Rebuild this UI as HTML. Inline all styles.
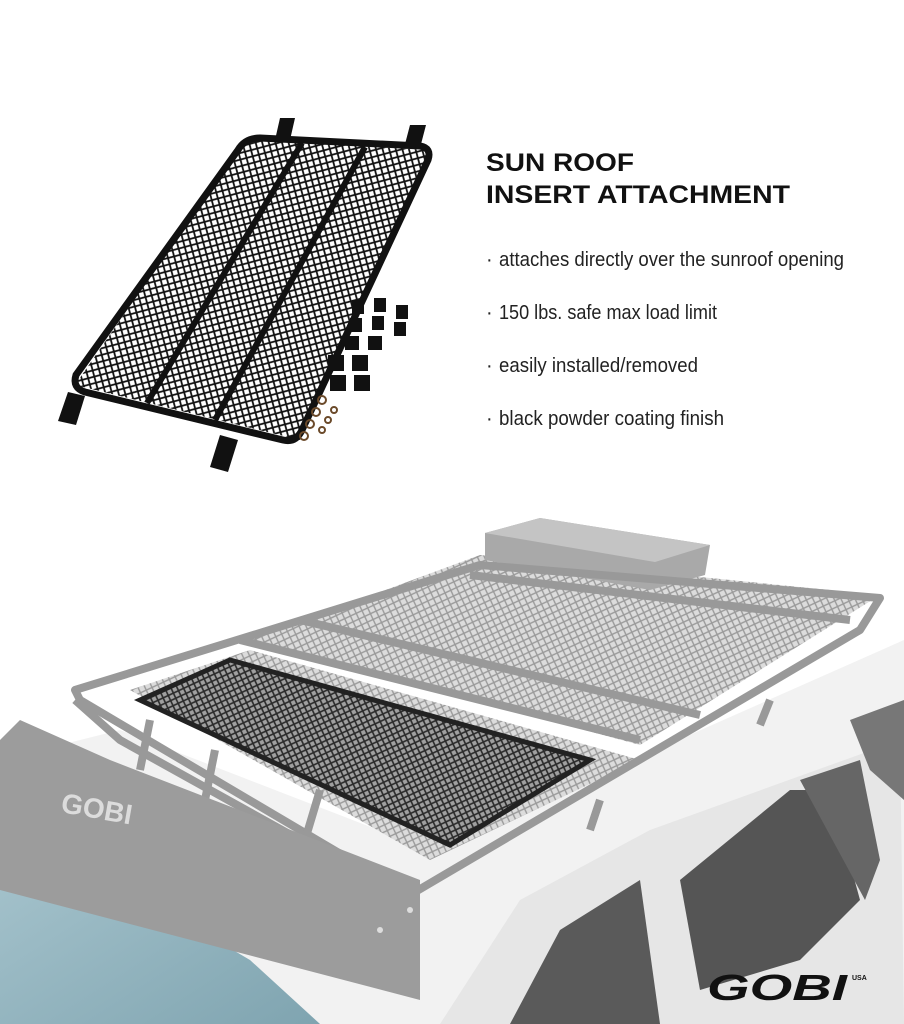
<!DOCTYPE html>
<html><head><style>html,body{margin:0;padding:0;background:#fff}svg{display:block}</style></head>
<body>
<svg width="904" height="1024" viewBox="0 0 904 1024" xmlns="http://www.w3.org/2000/svg">
<defs>
<pattern id="mesh" width="9" height="9" patternUnits="userSpaceOnUse" patternTransform="rotate(30)">
<rect width="9" height="9" fill="#fff"/><path d="M0 0L9 9M9 0L0 9" stroke="#111" stroke-width="1.8"/></pattern>
<pattern id="gmesh" width="9" height="9" patternUnits="userSpaceOnUse" patternTransform="rotate(20)">
<rect width="9" height="9" fill="#dcdcdc"/><path d="M0 0L9 9M9 0L0 9" stroke="#9a9a9a" stroke-width="1.4"/></pattern>
<pattern id="bmesh" width="8" height="8" patternUnits="userSpaceOnUse" patternTransform="rotate(20)">
<rect width="8" height="8" fill="#a0a0a0"/><path d="M0 0L8 8M8 0L0 8" stroke="#2a2a2a" stroke-width="1.6"/></pattern>
<linearGradient id="glass" x1="0" y1="0" x2="1" y2="1"><stop offset="0" stop-color="#a9c6cf"/><stop offset="1" stop-color="#7fa4b0"/></linearGradient>
</defs>

<g>
<polygon points="245,140 430,150 300,440 75,385" fill="url(#mesh)"/>
<path d="M260,138 L420,146 Q432,148 428,160 L302,430 Q296,443 283,440 L85,392 Q72,388 76,375 L238,150 Q245,138 260,138Z" fill="none" stroke="#111" stroke-width="7"/>
<line x1="302" y1="143" x2="147" y2="403" stroke="#111" stroke-width="6"/>
<line x1="365" y1="147" x2="215" y2="420" stroke="#111" stroke-width="6"/>
<polygon points="280,118 295,118 290,140 275,140" fill="#111"/>
<polygon points="410,125 426,125 420,148 404,148" fill="#111"/>
<polygon points="68,392 85,396 76,425 58,421" fill="#111"/>
<polygon points="220,435 238,440 228,472 210,467" fill="#111"/>
<g fill="#111">
<rect x="352" y="300" width="12" height="14"/><rect x="374" y="298" width="12" height="14"/><rect x="396" y="305" width="12" height="14"/>
<rect x="350" y="318" width="12" height="14"/><rect x="372" y="316" width="12" height="14"/><rect x="394" y="322" width="12" height="14"/>
<rect x="345" y="336" width="14" height="14"/><rect x="368" y="336" width="14" height="14"/>
<rect x="328" y="355" width="16" height="16"/><rect x="352" y="355" width="16" height="16"/>
<rect x="330" y="375" width="16" height="16"/><rect x="354" y="375" width="16" height="16"/>
</g>
<g fill="none" stroke="#6b4a2a" stroke-width="2">
<circle cx="322" cy="400" r="4"/><circle cx="334" cy="410" r="3"/><circle cx="316" cy="412" r="4"/><circle cx="328" cy="420" r="3"/><circle cx="310" cy="424" r="4"/><circle cx="322" cy="430" r="3"/><circle cx="304" cy="436" r="4"/>
</g>
</g>

<g font-family="'Liberation Sans',sans-serif">
<text x="486" y="171" font-size="25" font-weight="bold" fill="#111" textLength="148" lengthAdjust="spacingAndGlyphs">SUN ROOF</text>
<text x="486" y="203" font-size="25" font-weight="bold" fill="#111" textLength="304" lengthAdjust="spacingAndGlyphs">INSERT ATTACHMENT</text>
<g font-size="20" fill="#222">
<text x="486" y="266">·</text><text x="499" y="266" textLength="345" lengthAdjust="spacingAndGlyphs">attaches directly over the sunroof opening</text>
<text x="486" y="319">·</text><text x="499" y="319" textLength="218" lengthAdjust="spacingAndGlyphs">150 lbs. safe max load limit</text>
<text x="486" y="372">·</text><text x="499" y="372" textLength="199" lengthAdjust="spacingAndGlyphs">easily installed/removed</text>
<text x="486" y="425">·</text><text x="499" y="425" textLength="225" lengthAdjust="spacingAndGlyphs">black powder coating finish</text>
</g>
</g>

<polygon points="0,760 120,730 430,850 904,640 904,1024 0,1024" fill="#f2f2f2"/>
<polygon points="0,820 0,1024 320,1024 250,960 80,860" fill="url(#glass)"/>
<polygon points="440,1024 520,900 650,830 900,740 904,1024" fill="#e6e6e6"/>
<polygon points="510,1024 560,930 640,880 660,1024" fill="#5a5a5a"/>
<polygon points="680,880 790,790 830,790 860,900 800,960 700,990" fill="#555"/>
<polygon points="800,780 860,760 880,860 865,900" fill="#666"/>
<polygon points="850,720 904,700 904,800 870,770" fill="#777"/>
<polygon points="250,640 480,555 880,595 640,745" fill="url(#gmesh)"/>
<polygon points="130,690 250,650 640,760 430,860" fill="url(#gmesh)"/>
<polygon points="140,700 230,660 590,760 450,845" fill="url(#bmesh)"/>
<path d="M140,700 L230,660 L590,760 L450,845 Z" fill="none" stroke="#222" stroke-width="5"/>
<polygon points="485,533 540,518 710,545 705,575 650,590 485,560" fill="#a9a9a9"/>
<polygon points="485,533 540,518 710,545 655,562" fill="#c4c4c4"/>
<g fill="none" stroke="#999" stroke-width="8" stroke-linejoin="round">
<path d="M75,690 L480,565 L880,598 L860,630 L410,895 L80,700 Z"/>
<path d="M75,700 L120,740 L390,890"/>
<path d="M240,640 L640,740"/>
<path d="M300,620 L700,715"/>
<path d="M470,575 L850,620"/>
<path d="M150,720 L140,770 M215,750 L205,800 M320,790 L305,840 M600,800 L590,830 M770,700 L760,725"/>
</g>
<polygon points="20,720 110,760 420,880 420,1000 0,890 0,740" fill="#9c9c9c"/>
<text x="60" y="812" font-family="'Liberation Sans',sans-serif" font-size="28" font-weight="bold" fill="#dcdcdc" transform="rotate(10 60 812)">GOBI</text>
<circle cx="380" cy="930" r="3" fill="#ddd"/><circle cx="410" cy="910" r="3" fill="#ddd"/>
<text x="707" y="1000" font-family="'Liberation Sans',sans-serif" font-size="36" font-weight="bold" font-style="italic" fill="#111" textLength="140" lengthAdjust="spacingAndGlyphs">GOBI</text>
<text x="852" y="980" font-family="'Liberation Sans',sans-serif" font-size="7" font-weight="bold" fill="#111">USA</text>
</svg>
</body></html>
